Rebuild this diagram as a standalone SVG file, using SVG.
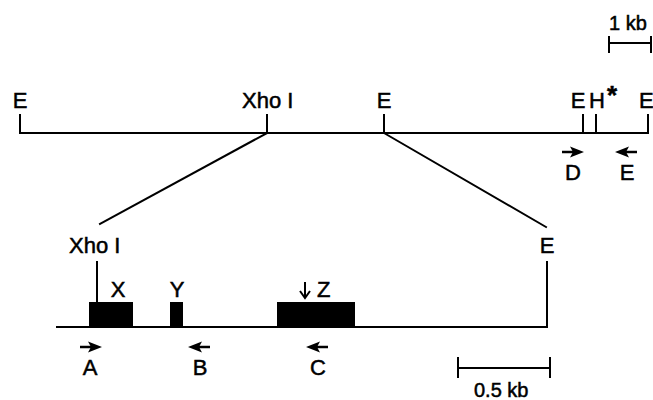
<svg xmlns="http://www.w3.org/2000/svg" xmlns:xlink="http://www.w3.org/1999/xlink" width="653" height="400" viewBox="0 0 653 400">
  <style>
    .ln { stroke: #000; stroke-width: 2; fill: none; stroke-linecap: square; }
    .lbl { font-family: "Liberation Sans", Arial, sans-serif; font-size: 22px; fill: #000; stroke: #000; stroke-width: 0.5; }
    .mid { text-anchor: middle; }
    .scale { font-size: 20px; }
    .exon { fill: #000; }
  </style>
  <defs>
    <!-- primer arrow, tail at origin, pointing right -->
    <g id="primer">
      <line x1="0" y1="0" x2="15" y2="0" stroke="#000" stroke-width="2.5"/>
      <polygon points="22,0 8,-5.5 11,0 8,5.5" fill="#000"/>
    </g>
  </defs>
  <rect width="653" height="400" fill="#fff"/>

  <!-- scale bar 1 kb -->
  <g id="scale-1kb">
    <path class="ln" d="M609,43 H651 M609,37 V52 M651,37 V52"/>
    <text class="lbl scale" x="609" y="30">1 kb</text>
  </g>

  <!-- genomic map -->
  <g id="genomic-map">
    <path class="ln" d="M20,133 H648 M20,115 V133 M267,115 V133 M384,115 V133 M583,115 V133 M596,115 V133 M648,115 V133"/>
    <text class="lbl mid" x="20" y="108">E</text>
    <text class="lbl" x="242" y="108">Xho I</text>
    <text class="lbl mid" x="384" y="108">E</text>
    <text class="lbl mid" x="578" y="108">E</text>
    <text class="lbl mid" x="597" y="108">H</text>
    <text class="lbl" x="607" y="104" style="font-size:26px;font-weight:bold">*</text>
    <text class="lbl" x="639" y="108">E</text>
  </g>

  <!-- primers D and E -->
  <g id="primer-D">
    <use xlink:href="#primer" transform="translate(562,152)"/>
    <text class="lbl mid" x="573" y="180">D</text>
  </g>
  <g id="primer-E">
    <use xlink:href="#primer" transform="translate(637,152) scale(-1,1)"/>
    <text class="lbl mid" x="627" y="180">E</text>
  </g>

  <!-- expansion lines -->
  <g id="connectors">
    <line class="ln" x1="267" y1="133" x2="100" y2="224"/>
    <line class="ln" x1="384" y1="133" x2="546" y2="227"/>
  </g>

  <!-- expanded Xho I - E fragment -->
  <g id="fragment">
    <path class="ln" d="M57,327 H547 V262 M97,262 V305"/>
    <text class="lbl" x="69" y="253">Xho I</text>
    <text class="lbl mid" x="547" y="253">E</text>
  </g>

  <g id="exon-X">
    <rect class="exon" x="89" y="302" width="44" height="25"/>
    <text class="lbl mid" x="118" y="297">X</text>
  </g>
  <g id="exon-Y">
    <rect class="exon" x="170" y="302" width="13" height="25"/>
    <text class="lbl mid" x="177" y="297">Y</text>
  </g>
  <g id="exon-Z">
    <rect class="exon" x="277" y="302" width="78" height="25"/>
    <!-- downward site arrow -->
    <path d="M305,282 V297 M300,291 L305,298 L310,291" fill="none" stroke="#000" stroke-width="2"/>
    <text class="lbl" x="317" y="297">Z</text>
  </g>

  <!-- primers A, B, C -->
  <g id="primer-A">
    <use xlink:href="#primer" transform="translate(80,347)"/>
    <text class="lbl mid" x="90" y="375">A</text>
  </g>
  <g id="primer-B">
    <use xlink:href="#primer" transform="translate(210,347) scale(-1,1)"/>
    <text class="lbl mid" x="200" y="375">B</text>
  </g>
  <g id="primer-C">
    <use xlink:href="#primer" transform="translate(328,347) scale(-1,1)"/>
    <text class="lbl mid" x="318" y="375">C</text>
  </g>

  <!-- scale bar 0.5 kb -->
  <g id="scale-05kb">
    <path class="ln" d="M458,368 H550 M458,358 V377 M550,358 V377"/>
    <text class="lbl scale" x="474" y="397">0.5 kb</text>
  </g>
</svg>
